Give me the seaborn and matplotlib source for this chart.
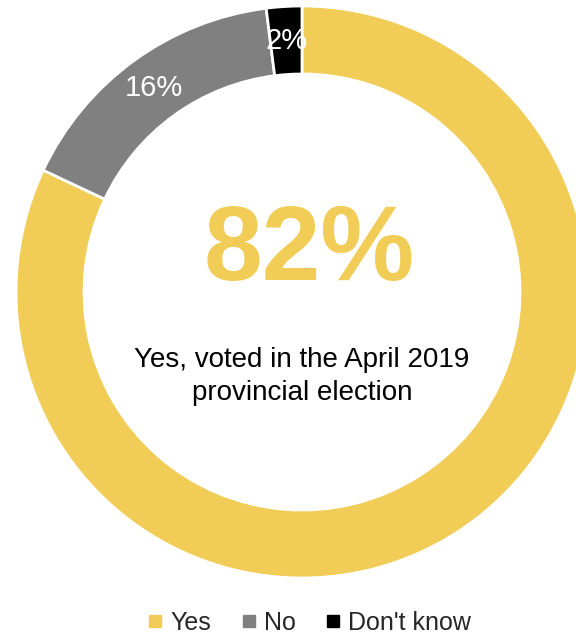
"""Donut chart: voted in the April 2019 provincial election."""

import matplotlib
matplotlib.use("Agg")
import matplotlib.pyplot as plt
from matplotlib.lines import Line2D
import seaborn as sns

categories = ["Yes", "No", "Don't know"]
shares = [82, 16, 2]
colors = ["#F1CD58", "#808080", "#000000"]
headline = "82%"
caption = "Yes, voted in the April 2019\nprovincial election"

sns.set_theme(style="white")
plt.rcParams["font.family"] = ["Liberation Sans", "DejaVu Sans"]

fig = plt.figure(figsize=(5.76, 6.37), dpi=100)
ax = fig.add_axes([16 / 576, 59 / 637, 572 / 576, 572 / 637])

wedges, texts, autotexts = ax.pie(
    shares, colors=colors, startangle=90, counterclock=False, radius=1,
    wedgeprops=dict(width=68 / 286, edgecolor="white", linewidth=2),
    autopct=lambda p: f"{p:.0f}%", pctdistance=0.88,
    textprops=dict(color="white", fontsize=21),
)
autotexts[0].set_visible(False)
for w in wedges:
    w.set_clip_on(False)
ax.set_xlim(-1, 1); ax.set_ylim(-1, 1); ax.set_aspect("equal"); ax.axis("off")

ax.text(0.025, 0.175, headline, ha="center", va="center_baseline", fontsize=76,
        fontweight="bold", color=colors[0])
ax.text(0, -0.295, caption, ha="center", va="center", fontsize=20,
        color="black", linespacing=1.35)

handles = [Line2D([], [], marker="s", linestyle="", markersize=8, color=c) for c in colors]
fig.legend(handles, categories, loc="center", bbox_to_anchor=(0.535, 14 / 637), ncol=3,
           frameon=False, fontsize=18, handletextpad=0.2, columnspacing=1.1, handlelength=0.8)

fig.savefig("out.png", dpi=100)
